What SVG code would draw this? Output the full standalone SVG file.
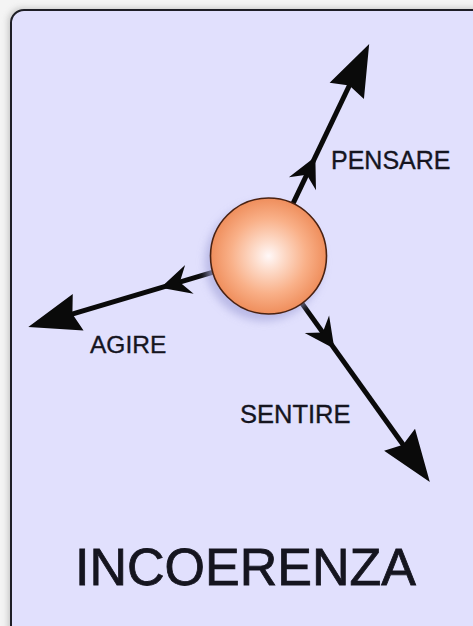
<svg xmlns="http://www.w3.org/2000/svg" width="473" height="626" viewBox="0 0 473 626">
  <defs>
    <radialGradient id="sph" cx="50%" cy="50%" r="50%">
      <stop offset="0" stop-color="#fff8f8"/>
      <stop offset="0.25" stop-color="#fddccb"/>
      <stop offset="0.65" stop-color="#f9b088"/>
      <stop offset="1" stop-color="#ef8e5c"/>
    </radialGradient>
    <filter id="blur" x="-20%" y="-20%" width="140%" height="140%">
      <feGaussianBlur stdDeviation="4"/>
    </filter>
    <filter id="fblur" x="-5%" y="-5%" width="110%" height="110%">
      <feGaussianBlur stdDeviation="3"/>
    </filter>
  </defs>
  <style>
    .lbl { font-family: "Liberation Sans", Arial, sans-serif; fill: #15151f; stroke: #15151f; stroke-width: 0.35; }
    .shaft { stroke: #0a0a0a; stroke-width: 5; fill: none; }
    .head { fill: #0a0a0a; }
  </style>
  <rect width="473" height="626" fill="#f4f4f4"/>
  <g id="frame">
    <rect x="8" y="8" width="490" height="640" rx="14" fill="#9a9a9a" opacity="0.5" filter="url(#fblur)"/>
    <rect x="11" y="10" width="490" height="640" rx="13" fill="#e1e0fd" stroke="#1e1e26" stroke-width="2"/>
  </g>
  <g id="connectors">
    <g id="arrow-pensare" transform="translate(268,256) rotate(-64.5)">
      <line class="shaft" x1="58" y1="0" x2="192" y2="0"/>
      <polygon class="head" points="110,0 80,-15 90,0 80,15"/>
      <polygon class="head" points="235,0 183,-19 189,0 183,19"/>
    </g>
    <g id="arrow-agire" transform="translate(268,256) rotate(163.5)">
      <line class="shaft" x1="58" y1="0" x2="207" y2="0"/>
      <polygon class="head" points="112,0 82,-15 92,0 82,15"/>
      <polygon class="head" points="250,0 198,-19 204,0 198,19"/>
    </g>
    <g id="arrow-sentire" transform="translate(268,256) rotate(54.4)">
      <line class="shaft" x1="58" y1="0" x2="235" y2="0"/>
      <polygon class="head" points="114,0 84,-15 94,0 84,15"/>
      <polygon class="head" points="278,0 226,-19 232,0 226,19"/>
    </g>
  </g>
  <g id="sphere">
    <circle cx="264" cy="262" r="59" fill="#a8a8dc" opacity="0.7" filter="url(#blur)"/>
    <circle cx="268.5" cy="256" r="58" fill="url(#sph)" stroke="#4a2212" stroke-width="1.6"/>
  </g>
  <g id="label-pensare"><text class="lbl" x="331" y="169" font-size="25">PENSARE</text></g>
  <g id="label-agire"><text class="lbl" x="90" y="353" font-size="24.5">AGIRE</text></g>
  <g id="label-sentire"><text class="lbl" x="240" y="423" font-size="25.5">SENTIRE</text></g>
  <g id="title"><text class="lbl" x="75" y="585" font-size="52" style="stroke-width:0.8">INCOERENZA</text></g>
</svg>
